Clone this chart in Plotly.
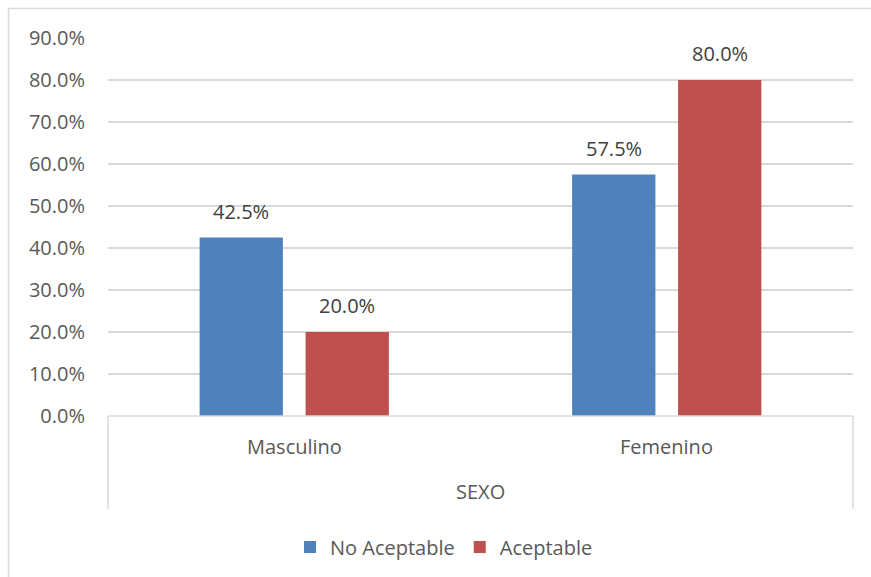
import plotly.graph_objects as go

# Porcentajes por sexo y nivel
categorias = ["Masculino", "Femenino"]
no_aceptable = [0.425, 0.575]
aceptable = [0.20, 0.80]
series = [("No Aceptable", no_aceptable, "#4F81BD"), ("Aceptable", aceptable, "#C0504D")]
y_ticks = [0.0, 0.1, 0.2, 0.3, 0.4, 0.5, 0.6, 0.7, 0.8, 0.9]
titulo_eje = "SEXO"

FONT = "Open Sans"
GRID = "#D9D9D9"
TICK_COLOR = "#595959"
LABEL_COLOR = "#404040"

W, H = 871, 577
L, R, T, B = 108, 18, 38, 160
plot_h = H - T - B

fig = go.Figure()
for name, vals, color in series:
    fig.add_trace(go.Bar(
        x=categorias, y=vals, name=name,
        marker=dict(color=color, line=dict(width=0)),
    ))

# Etiquetas de datos sobre cada barra
shift = 53
for i, (name, vals, color) in enumerate(series):
    dx = -shift if i == 0 else shift
    for cat, v in zip(categorias, vals):
        fig.add_annotation(
            x=cat, y=v, xref="x", yref="y", text=f"{v*100:.1f}%",
            showarrow=False, yanchor="bottom", xshift=dx, yshift=11,
            font=dict(family=FONT, size=20, color=LABEL_COLOR),
        )

# Etiquetas de categorías y título del eje
def py(px):
    return (H - B - px) / plot_h

for cat in categorias:
    fig.add_annotation(
        x=cat, y=py(448), xref="x", yref="paper", text=cat, showarrow=False,
        yanchor="middle", font=dict(family=FONT, size=20, color=TICK_COLOR),
    )
fig.add_annotation(
    x=0.5, y=py(493), xref="paper", yref="paper", text=titulo_eje, showarrow=False,
    yanchor="middle", font=dict(family=FONT, size=20, color=TICK_COLOR),
)

# Líneas del eje de categorías
for xp in (0, 1):
    fig.add_shape(type="line", xref="paper", yref="paper", x0=xp, x1=xp,
                  y0=0, y1=py(510), line=dict(color=GRID, width=1.5))
fig.add_shape(type="line", xref="paper", yref="paper", x0=0, x1=1,
              y0=0, y1=0, line=dict(color=GRID, width=1.5))

# Borde del área del gráfico
plot_w = W - L - R
def pxx(x):
    return (x - L) / plot_w
fig.add_shape(type="rect", xref="paper", yref="paper",
              x0=pxx(8.5), x1=pxx(W + 20), y0=py(8.5), y1=py(H + 20),
              line=dict(color=GRID, width=1.5), layer="below")

fig.update_layout(
    width=W, height=H,
    margin=dict(l=L, r=R, t=T, b=B),
    paper_bgcolor="white", plot_bgcolor="white",
    barmode="group", bargap=0.431, bargroupgap=0.214,
    font=dict(family=FONT, size=20, color=TICK_COLOR),
    showlegend=True,
    legend=dict(
        orientation="h", x=pxx(444), xanchor="center", y=py(547), yanchor="middle",
        font=dict(family=FONT, size=20, color=TICK_COLOR),
        itemwidth=30, bgcolor="rgba(0,0,0,0)",
    ),
    xaxis=dict(showticklabels=False, showgrid=False, zeroline=False, showline=False,
               ticks=""),
    yaxis=dict(range=[0, 0.9], tickvals=y_ticks, tickformat=".1%",
               showgrid=True, gridcolor=GRID, gridwidth=1.5, zeroline=False,
               showline=False, ticks="outside", ticklen=18,
               tickcolor="rgba(0,0,0,0)",
               tickfont=dict(family=FONT, size=20, color=TICK_COLOR)),
)

fig.write_html("out.html")
